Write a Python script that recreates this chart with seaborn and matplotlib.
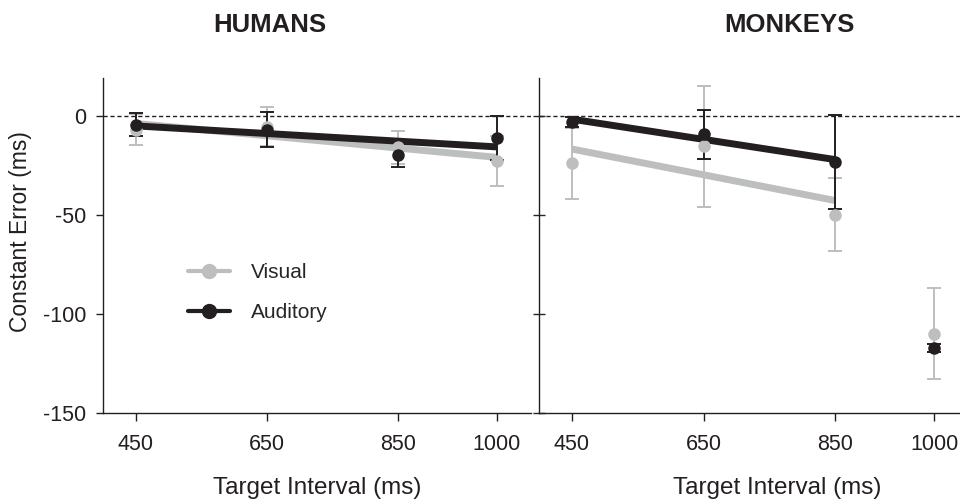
import numpy as np
import pandas as pd
import matplotlib
matplotlib.use("Agg")
import matplotlib.pyplot as plt
from matplotlib.lines import Line2D
import seaborn as sns

# Data
intervals = [450, 650, 850, 1000]
tick_labels = ["450", "650", "850", "1000"]

human_visual_mean = [-7, -5.5, -16, -23]
human_visual_err = [8, 10, 8.5, 12.5]
human_auditory_mean = [-4.5, -7, -20, -11.3]
human_auditory_err = [6, 9, 6, 11]

monkey_visual_mean = [-24, -15.5, -50, -110]
monkey_visual_err = [18, 30.5, 18.5, 23]
monkey_auditory_mean = [-3, -9.5, -23.4, -117]
monkey_auditory_err = [2.5, 12.5, 23.5, 2]

GRAY = "#bcbec0"
BLACK = "#231f20"

sns.set_style("ticks")
plt.rcParams["font.family"] = ["Liberation Sans", "DejaVu Sans"]
plt.rcParams["axes.unicode_minus"] = False
plt.rcParams["axes.edgecolor"] = BLACK
plt.rcParams["axes.linewidth"] = 1.0

fig = plt.figure(figsize=(9.6, 4.99), dpi=100)
W, H = 960, 499
ax1 = fig.add_axes([103 / W, 1 - 413 / H, 428 / W, 335 / H])
ax2 = fig.add_axes([539 / W, 1 - 413 / H, 476 / W, 335 / H])


def draw_group(ax, mean, err, color, fit_n):
    df = pd.DataFrame({"interval": intervals, "ce": mean, "err": err})
    ax.errorbar(df["interval"], df["ce"], yerr=df["err"], fmt="o", color=color,
                ms=8, elinewidth=1.4, capsize=5, capthick=1.4, zorder=3)
    fit = df.iloc[:fit_n]
    sns.regplot(data=fit, x="interval", y="ce", ax=ax, scatter=False, ci=None,
                truncate=True, line_kws=dict(color=color, lw=5, solid_capstyle="butt", zorder=3))


draw_group(ax1, human_visual_mean, human_visual_err, GRAY, 4)
draw_group(ax1, human_auditory_mean, human_auditory_err, BLACK, 4)
draw_group(ax2, monkey_visual_mean, monkey_visual_err, GRAY, 3)
draw_group(ax2, monkey_auditory_mean, monkey_auditory_err, BLACK, 3)

for ax in (ax1, ax2):
    ax.axhline(0, color=BLACK, lw=1, ls=(0, (3, 2)), zorder=1)
    ax.set_ylim(-150, 19)
    ax.set_yticks([0, -50, -100, -150])
    ax.set_xticks(intervals)
    ax.set_xticklabels(tick_labels)
    ax.tick_params(axis="x", direction="out", length=6, width=1, pad=9,
                   labelsize=15.5, colors=BLACK)
    ax.set_xlabel("Target Interval (ms)", fontsize=17.5, labelpad=16, color=BLACK)
    ax.spines["top"].set_visible(False)
    ax.spines["right"].set_visible(False)

ax1.set_xlim(400, 1052)
ax2.set_xlim(400, 1123)

ax1.set_yticklabels(["0", "-50", "-100", "-150"])
ax1.tick_params(axis="y", direction="out", length=5, width=1, pad=7,
                labelsize=15.5, colors=BLACK)
ax1.set_ylabel("Constant Error (ms)", fontsize=16.5, color=BLACK)
ax1.yaxis.set_label_coords(-0.165, 0.543)

ax2.set_ylabel("")
ax2.set_yticklabels([])
ax2.tick_params(axis="y", direction="inout", length=8, width=1)

fig.text(270 / W, 1 - 25 / H, "HUMANS", ha="center", va="center",
         fontsize=18.5, fontweight="bold", color=BLACK)
fig.text(789 / W, 1 - 25 / H, "MONKEYS", ha="center", va="center",
         fontsize=18.5, fontweight="bold", color=BLACK)

handles = [Line2D([], [], color=GRAY, lw=3, marker="o", ms=10),
           Line2D([], [], color=BLACK, lw=3, marker="o", ms=10)]
ax1.legend(handles, ["Visual", "Auditory"], loc="center left",
           bbox_to_anchor=(0.199, 0.36), frameon=False, fontsize=15,
           handlelength=2.0, handletextpad=1.0, labelspacing=1.0,
           borderpad=0, borderaxespad=0)

fig.savefig("out.png", dpi=100)
